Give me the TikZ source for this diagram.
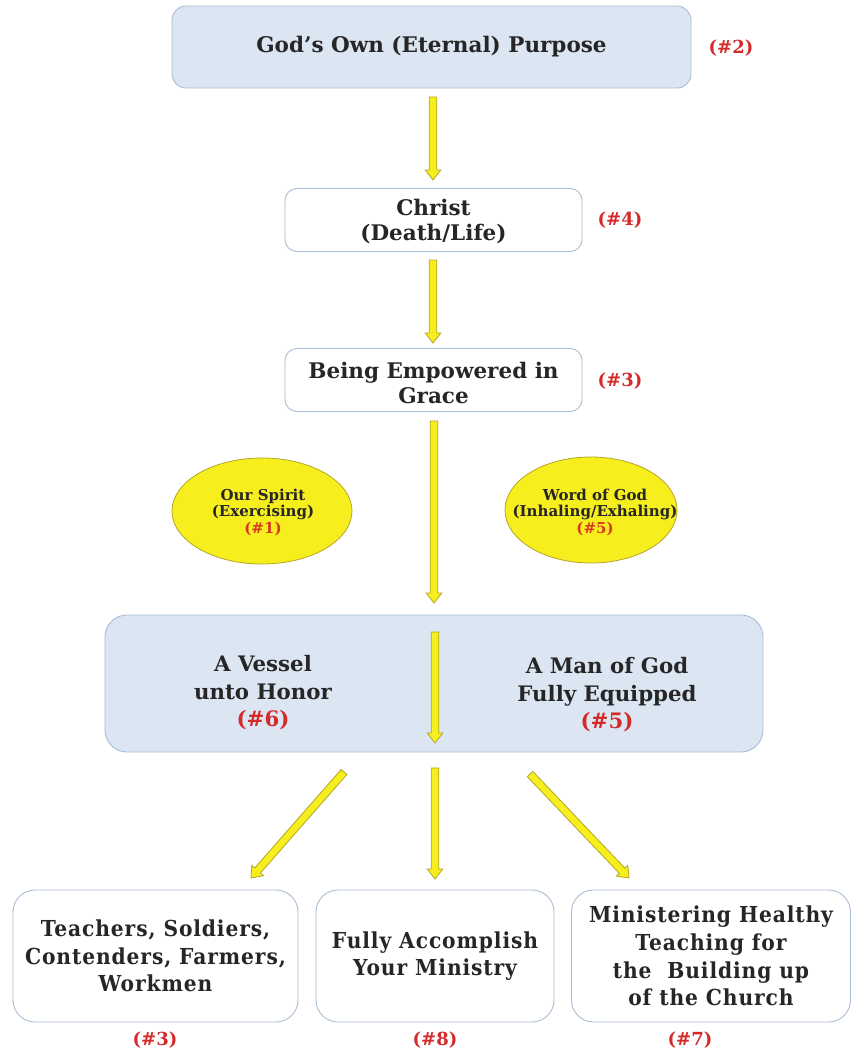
\documentclass[tikz,border=0pt]{standalone}
\usepackage{fontspec}
\usetikzlibrary{calc,shapes.geometric}
\newfontfamily\dvs{DejaVu Serif}
\newfontfamily\dvsc[FakeStretch=0.92,LetterSpace=4]{DejaVu Serif}
\definecolor{boxblue}{HTML}{DCE6F2}
\definecolor{boxline}{HTML}{A9BDD8}
\definecolor{arrfill}{HTML}{F7EE1E}
\definecolor{arrline}{HTML}{B5A626}
\definecolor{numred}{HTML}{D42A2A}
\definecolor{ovalred}{HTML}{D8381E}
\definecolor{txt}{HTML}{262626}
\tikzset{
  bluebox/.style={draw=boxline, fill=boxblue, line width=0.9pt, rounded corners=14pt, text=txt, align=center},
  whitebox/.style={draw=boxline, fill=white, line width=0.9pt, rounded corners=12pt, text=txt, align=center,
     font=\dvs\bfseries\fontsize{21.5}{25}\selectfont},
  botbox/.style={draw=boxline, fill=white, line width=0.9pt, rounded corners=22pt, text=txt, align=center,
     minimum height=132pt, font=\dvsc\bfseries\fontsize{22}{27.7}\selectfont},
  num/.style={text=numred, font=\dvs\bfseries\fontsize{18}{20}\selectfont},
  oval/.style={ellipse, draw=arrline, fill=arrfill, line width=0.8pt, inner sep=0pt},
  ovaltext/.style={align=center, text=txt, inner sep=0pt, font=\dvs\bfseries\fontsize{15}{16.5}\selectfont},
  fatarrow/.style={draw=arrline, fill=arrfill, line width=0.8pt, line join=miter},
  plain/.style={text=txt, align=center, font=\dvs\bfseries\fontsize{21.3}{27.5}\selectfont}
}
\newcommand\fatarr[2]{%
  \coordinate (tmpC) at ($(#2)!10pt!(#1)$);
  \draw[fatarrow] ($(#1)!3.8pt!90:(#2)$) -- ($(tmpC)!3.8pt!90:(#2)$) -- ($(tmpC)!7.8pt!90:(#2)$)
     -- (#2) -- ($(tmpC)!7.8pt!-90:(#2)$) -- ($(tmpC)!3.8pt!-90:(#2)$) -- ($(#1)!3.8pt!-90:(#2)$) -- cycle;
}
\begin{document}
\begin{tikzpicture}[x=1pt,y=-1pt]
\useasboundingbox (0,0) rectangle (852,1055);
\fill[white] (0,0) rectangle (852,1055);

% top
\node[bluebox, minimum width=519pt, minimum height=82pt, font=\dvs\bfseries\fontsize{21.5}{26}\selectfont] (top) at (431.5,47) {God’s Own (Eternal) Purpose};
\node[num] (n2) at (731,48) {(\#2)};

\node[whitebox, minimum width=297pt, minimum height=63pt] (christ) at (433.5,220) {};
\node[plain, font=\dvs\bfseries\fontsize{21.5}{25}\selectfont] (christtxt) at (433.5,222) {Christ\\(Death/Life)};
\node[num] (n4) at (620,220) {(\#4)};

\node[whitebox, minimum width=297pt, minimum height=63pt] (grace) at (433.5,380) {};
\node[plain, font=\dvs\bfseries\fontsize{21.5}{25}\selectfont] (gracetxt) at (433.5,383) {Being Empowered in\\Grace};
\node[num] (n3a) at (620,381) {(\#3)};

% ovals
\node[oval, minimum width=180pt, minimum height=106pt] (spirit) at (262,511) {};
\node[ovaltext] (spirittxt) at (263,512) {Our Spirit\\(Exercising)\\{\color{ovalred}(\#1)}};
\node[oval, minimum width=172pt, minimum height=106pt] (word) at (591,510) {};
\node[ovaltext] (wordtxt) at (595,512) {Word of God\\(Inhaling/Exhaling)\\{\color{ovalred}(\#5)}};

% big box
\node[bluebox, rounded corners=22pt, minimum width=658pt, minimum height=137pt] (vessel) at (434,683.5) {};
\node[plain] (vtext) at (263,693) {A Vessel\\unto Honor\\{\color{numred}(\#6)}};
\node[plain] (mtext) at (607,695) {A Man of God\\Fully Equipped\\{\color{numred}(\#5)}};

% bottom boxes
\node[botbox, minimum width=285pt] (b1) at (155.5,956) {Teachers, Soldiers,\\Contenders, Farmers,\\Workmen};
\node[botbox, minimum width=238pt] (b2) at (435,956) {Fully Accomplish\\Your Ministry};
\node[botbox, minimum width=279pt] (b3) at (711,956) {Ministering Healthy\\Teaching for\\the\ \ Building up\\of the Church};
\node[num] (n3b) at (155,1040) {(\#3)};
\node[num] (n8) at (435,1040) {(\#8)};
\node[num] (n7) at (690,1040) {(\#7)};

% arrows
\coordinate (a1s) at (433,97);  \coordinate (a1e) at (433,180);
\coordinate (a2s) at (433,260); \coordinate (a2e) at (433,343);
\coordinate (a3s) at (434,421); \coordinate (a3e) at (434,603);
\coordinate (a4s) at (435,632); \coordinate (a4e) at (435,743);
\coordinate (a5s) at (344,772); \coordinate (a5e) at (251,878);
\coordinate (a6s) at (435,768); \coordinate (a6e) at (435,879);
\coordinate (a7s) at (530,774); \coordinate (a7e) at (629,878);
\fatarr{a1s}{a1e}
\fatarr{a2s}{a2e}
\fatarr{a3s}{a3e}
\fatarr{a4s}{a4e}
\fatarr{a5s}{a5e}
\fatarr{a6s}{a6e}
\fatarr{a7s}{a7e}
\end{tikzpicture}
\end{document}
